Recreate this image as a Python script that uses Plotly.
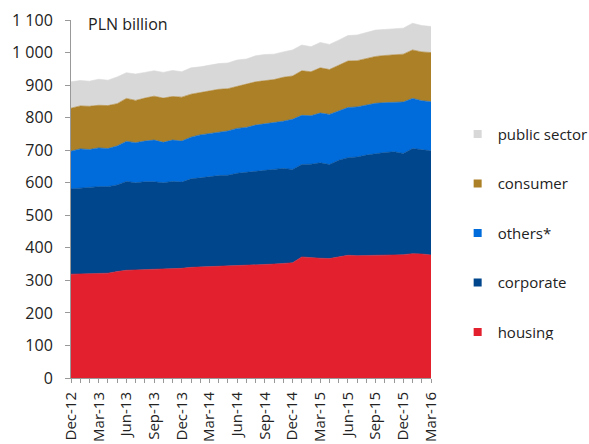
import plotly.graph_objects as go

months = ["Dec-12",
          "Jan-13", "Feb-13", "Mar-13", "Apr-13", "May-13", "Jun-13",
          "Jul-13", "Aug-13", "Sep-13", "Oct-13", "Nov-13", "Dec-13",
          "Jan-14", "Feb-14", "Mar-14", "Apr-14", "May-14", "Jun-14",
          "Jul-14", "Aug-14", "Sep-14", "Oct-14", "Nov-14", "Dec-14",
          "Jan-15", "Feb-15", "Mar-15", "Apr-15", "May-15", "Jun-15",
          "Jul-15", "Aug-15", "Sep-15", "Oct-15", "Nov-15", "Dec-15",
          "Jan-16", "Feb-16", "Mar-16"]

housing = [319, 320, 321, 321, 322, 327, 331, 332, 333, 333, 334, 335, 337,
           340, 341, 341, 342, 343, 344, 345, 347, 348, 350, 352, 354, 372,
           369, 368, 367, 373, 377, 376, 376, 377, 378, 378, 379, 382, 381, 378]
corporate = [262, 264, 265, 267, 266, 266, 273, 268, 270, 270, 266, 269, 265,
             272, 274, 278, 280, 280, 285, 287, 289, 290, 291, 292, 287, 284,
             288, 293, 289, 296, 300, 303, 309, 313, 315, 317, 311, 323, 321, 320]
others = [116, 120, 116, 119, 117, 120, 123, 123, 125, 128, 124, 127, 126,
          128, 132, 132, 134, 136, 138, 138, 141, 143, 143, 145, 154, 151,
          149, 153, 154, 152, 154, 154, 154, 154, 153, 153, 158, 154, 150, 151]
consumer = [132, 132, 133, 131, 132, 130, 132, 130, 132, 135, 136, 134, 135,
            132, 130, 132, 131, 130, 130, 133, 133, 133, 133, 135, 133, 137,
            135, 139, 138, 140, 143, 142, 143, 144, 145, 146, 147, 149, 150, 151]
public_sector = [81, 78, 77, 80, 78, 82, 79, 81, 79, 78, 79, 80, 78,
                 81, 79, 78, 79, 79, 80, 77, 80, 80, 78, 78, 80, 79,
                 77, 78, 77, 77, 78, 79, 79, 81, 80, 80, 80, 82, 81, 80]

series_names = ["housing", "corporate", "others*", "consumer", "public sector"]
series_values = [housing, corporate, others, consumer, public_sector]
series_colors = ["#E3202E", "#00468C", "#006CDC", "#AC8027", "#D8D8D8"]

y_tickvals = [0, 100, 200, 300, 400, 500, 600, 700, 800, 900, 1000, 1100]
y_ticktext = ["0", "100", "200", "300", "400", "500", "600", "700", "800",
              "900", "1 000", "1 100"]
x_ticktext = [m if i % 3 == 0 else "" for i, m in enumerate(months)]

FONT = "Open Sans"
fig = go.Figure()

for name, vals, col in zip(series_names, series_values, series_colors):
    fig.add_trace(go.Scatter(
        x=months, y=vals, name=name, mode="lines", stackgroup="one",
        line=dict(width=0.6, color=col), fillcolor=col, showlegend=False,
        hoverinfo="skip"))

# legend entries (small square swatches), top to bottom
for i, (name, col) in enumerate(zip(series_names[::-1], series_colors[::-1])):
    fig.add_trace(go.Scatter(
        x=[None], y=[None], mode="markers", name=name,
        marker=dict(symbol="square", size=8, color=col),
        legendgroup="g%d" % i, showlegend=True))

fig.update_layout(
    width=589, height=444,
    margin=dict(l=71, r=158, t=20, b=66, autoexpand=False),
    plot_bgcolor="white", paper_bgcolor="white",
    font=dict(family=FONT, size=15, color="#222222"),
    showlegend=True,
    legend=dict(xref="container", yref="container",
                x=0.777, y=0.735, xanchor="left", yanchor="top",
                font=dict(family=FONT, size=15, color="#222222"),
                tracegroupgap=27, itemwidth=30,
                bgcolor="rgba(0,0,0,0)"),
    annotations=[dict(text="PLN billion", xref="paper", yref="paper",
                      x=0.041, y=0.989, xanchor="left", yanchor="middle",
                      showarrow=False,
                      font=dict(family=FONT, size=16, color="#222222"))],
)

fig.update_xaxes(
    type="category", range=[0, len(months) - 1], automargin=False,
    tickmode="array", tickvals=months, ticktext=x_ticktext,
    tickangle=-90, ticks="outside", ticklen=4, tickcolor="#999999",
    ticklabelstandoff=3,
    showline=True, linecolor="#999999", linewidth=1,
    showgrid=False, zeroline=False,
    tickfont=dict(family=FONT, size=15, color="#222222"))

fig.update_yaxes(
    range=[0, 1100], tickmode="array", tickvals=y_tickvals, ticktext=y_ticktext,
    automargin=False, ticklabelstandoff=9,
    ticks="outside", ticklen=5, tickcolor="#999999",
    showline=True, linecolor="#999999", linewidth=1,
    showgrid=False, zeroline=False,
    tickfont=dict(family=FONT, size=16, color="#222222"))

fig.write_html(
    "out.html",
    config={"displayModeBar": False},
    post_script="document.body.style.margin='0';"
                "document.body.style.overflow='hidden';")
